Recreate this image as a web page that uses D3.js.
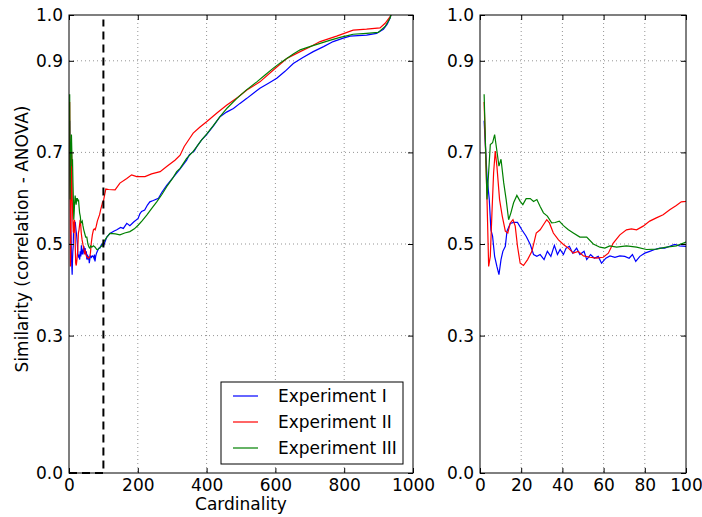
<!DOCTYPE html>
<html>
<head>
<meta charset="utf-8">
<script src="https://cdn.jsdelivr.net/npm/d3@7"></script>
<style>
  body { margin: 0; background: #fff; }
  svg { display: block; font-family: "DejaVu Sans", sans-serif; }
</style>
</head>
<body>
<div id="chart"></div>
<script>
// similarity vs cardinality, [cardinality, similarity]
const expI = [
  [2,0.769],[3.4,0.648],[4.5,0.597],[5.3,0.531],[6.1,0.517],[7.1,0.473],[8.2,0.451],[9.2,0.433],
  [10.2,0.466],[11.1,0.484],[12.3,0.495],[13.1,0.528],[14.7,0.545],[16.3,0.547],[18.2,0.547],
  [20.3,0.531],[22.4,0.517],[24.4,0.499],[26,0.477],[27.6,0.473],[29.2,0.477],[31.1,0.466],
  [32.7,0.484],[34.4,0.473],[36.1,0.497],[37.6,0.477],[38.9,0.488],[40.5,0.477],[41.8,0.491],
  [43.4,0.495],[45,0.48],[46.9,0.491],[48.5,0.477],[50.5,0.484],[51.8,0.466],[53.7,0.477],
  [55.5,0.469],[57.4,0.473],[59,0.458],[61.1,0.469],[63.1,0.474],[65.5,0.471],[67.9,0.474],
  [70.3,0.473],[72.4,0.469],[74,0.477],[75.6,0.462],[77.6,0.473],[80,0.48],[82.4,0.484],
  [84.8,0.488],[87.3,0.491],[89.7,0.491],[92.1,0.495],[94.5,0.499],[96.9,0.496],[100,0.495],
  [110,0.515],[119,0.523],[130,0.528],[139,0.531],[150,0.536],[158,0.534],[168,0.545],[177,0.54],
  [188,0.548],[201,0.556],[206,0.566],[211,0.571],[220,0.574],[228,0.585],[235,0.592],[245,0.595],
  [260,0.6],[270,0.613],[284,0.628],[300,0.643],[323,0.664],[342,0.683],[350,0.695],[357,0.699],
  [364,0.703],[371,0.712],[385,0.727],[400,0.739],[420,0.758],[439,0.778],[458,0.788],[478,0.796],
  [497,0.807],[517,0.818],[536,0.829],[555,0.84],[580,0.851],[604,0.862],[628,0.877],[652,0.894],
  [680,0.907],[710,0.92],[740,0.931],[768,0.942],[795,0.949],[817,0.954],[840,0.955],[865,0.956],
  [894,0.96],[914,0.969],[925,0.98],[933,0.993],[936,1.0]
];
const expII = [
  [2,0.81],[3.4,0.597],[4.2,0.451],[5,0.473],[5.8,0.568],[6.6,0.655],[7.4,0.703],[8.2,0.67],
  [9.5,0.597],[10.8,0.561],[12.3,0.528],[13.5,0.524],[14.7,0.546],[16,0.553],[17.1,0.539],
  [18.2,0.495],[19.5,0.458],[21.1,0.453],[23.1,0.466],[25.2,0.484],[27.3,0.524],[29.2,0.531],
  [30.8,0.542],[32.4,0.553],[33.7,0.546],[35.6,0.524],[38.1,0.509],[40.5,0.499],[42.9,0.491],
  [45.3,0.48],[47.7,0.484],[50.2,0.474],[53.4,0.471],[56.6,0.469],[59.8,0.471],[62.3,0.48],
  [64.7,0.502],[67.9,0.52],[71.1,0.531],[73.5,0.533],[76,0.531],[79.2,0.539],[82.4,0.55],
  [85.6,0.557],[88.9,0.564],[92.1,0.575],[95.3,0.584],[97.7,0.592],[100,0.593],
  [103,0.605],[107,0.62],[115,0.619],[134,0.618],[148,0.633],[168,0.643],[182,0.651],[197,0.647],
  [221,0.647],[240,0.653],[265,0.658],[284,0.669],[308,0.683],[323,0.694],[335,0.713],[352,0.732],
  [361,0.742],[380,0.755],[400,0.767],[430,0.786],[458,0.803],[490,0.82],[517,0.836],[555,0.854],
  [594,0.88],[633,0.905],[672,0.92],[700,0.93],[730,0.942],[778,0.954],[826,0.967],[865,0.969],
  [904,0.972],[919,0.982],[933,0.996],[936,1.0]
];
const expIII = [
  [2,0.827],[3.4,0.597],[5,0.717],[6.1,0.721],[7.1,0.739],[8.2,0.703],[9.2,0.67],[10.2,0.685],
  [11.5,0.634],[12.7,0.597],[13.9,0.553],[15,0.568],[16.3,0.59],[17.9,0.606],[19.5,0.593],
  [20.8,0.586],[22.4,0.599],[24.4,0.599],[26,0.593],[27.6,0.597],[29.2,0.582],[30.8,0.568],
  [32.7,0.561],[34.8,0.546],[36.5,0.547],[38.5,0.55],[40.5,0.54],[42.9,0.531],[45.3,0.524],
  [48.5,0.515],[51.8,0.515],[55,0.5],[58.2,0.493],[60.6,0.491],[63,0.496],[66.3,0.493],
  [71.1,0.496],[76,0.493],[80.8,0.488],[85.6,0.489],[90.5,0.493],[95.3,0.496],[100,0.504],
  [110,0.515],[119,0.523],[135,0.522],[148,0.52],[162,0.524],[177,0.527],[190,0.533],[201,0.541],
  [213,0.551],[226,0.563],[240,0.577],[255,0.592],[270,0.608],[284,0.625],[300,0.642],[313,0.658],
  [323,0.665],[342,0.687],[361,0.702],[371,0.712],[385,0.727],[400,0.74],[420,0.759],[439,0.778],
  [460,0.797],[488,0.818],[515,0.836],[546,0.854],[570,0.869],[594,0.884],[615,0.896],[633,0.905],
  [652,0.915],[672,0.924],[700,0.931],[730,0.938],[760,0.945],[788,0.951],[810,0.955],[826,0.958],
  [865,0.96],[899,0.962],[919,0.975],[933,0.993],[936,1.0]
];

const seriesNames = ["Experiment I", "Experiment II", "Experiment III"];
const seriesColors = ["#0000ff", "#ff0000", "#008000"];
const yTicks = [0.0, 0.3, 0.5, 0.7, 0.9, 1.0];
const xTicksLeft = [0, 200, 400, 600, 800, 1000];
const xTicksRight = [0, 20, 40, 60, 80, 100];
// dashed marker: box corner at cardinality 100
const cutoff = [[0, 0], [100, 0], [100, 0.99]];

const width = 702, height = 517;
const plotTop = 15, plotBottom = 473;
const fontSize = 17;

const svg = d3.select("#chart").append("svg")
  .attr("width", width).attr("height", height);

const y = d3.scaleLinear().domain([0, 1]).range([plotBottom, plotTop]);
const allSeries = [expI, expII, expIII];

function drawPanel(x0, x1, xDomain, xTicks, id, extra) {
  const x = d3.scaleLinear().domain(xDomain).range([x0, x1]);
  const g = svg.append("g");

  g.append("clipPath").attr("id", id)
    .append("rect").attr("x", x0).attr("y", plotTop).attr("width", x1 - x0).attr("height", plotBottom - plotTop);

  // grid
  const grid = g.append("g").attr("stroke", "#000").attr("stroke-width", 0.6)
    .attr("stroke-dasharray", "1,3").attr("opacity", 0.7);
  grid.selectAll("line.v").data(xTicks.slice(1, -1)).join("line").attr("class", "v")
    .attr("x1", d => x(d)).attr("x2", d => x(d)).attr("y1", plotTop).attr("y2", plotBottom);
  grid.selectAll("line.h").data(yTicks.slice(1, -1)).join("line").attr("class", "h")
    .attr("y1", d => y(d)).attr("y2", d => y(d)).attr("x1", x0).attr("x2", x1);

  const line = d3.line().x(d => x(d[0])).y(d => y(d[1]));
  const lines = g.append("g").attr("clip-path", `url(#${id})`);
  lines.selectAll("path").data(allSeries).join("path")
    .attr("d", line).attr("fill", "none")
    .attr("stroke", (d, i) => seriesColors[i]).attr("stroke-width", 1.2);

  if (extra) extra(g, x);

  const fmt = d3.format(".1f");
  const bAx = g.append("g").attr("transform", `translate(0,${plotBottom})`)
    .call(d3.axisBottom(x).tickValues(xTicks).tickSizeInner(-5).tickSizeOuter(0).tickPadding(6).tickFormat(d3.format("d")));
  const tAx = g.append("g").attr("transform", `translate(0,${plotTop})`)
    .call(d3.axisTop(x).tickValues(xTicks).tickSizeInner(-5).tickSizeOuter(0).tickFormat(""));
  const lAx = g.append("g").attr("transform", `translate(${x0},0)`)
    .call(d3.axisLeft(y).tickValues(yTicks).tickSizeInner(-5).tickSizeOuter(0).tickPadding(6).tickFormat(fmt));
  const rAx = g.append("g").attr("transform", `translate(${x1},0)`)
    .call(d3.axisRight(y).tickValues(yTicks).tickSizeInner(-5).tickSizeOuter(0).tickFormat(""));
  [bAx, tAx, lAx, rAx].forEach(a => {
    a.select(".domain").remove();
    a.selectAll("line").attr("stroke", "#000");
    a.selectAll("text").attr("font-size", fontSize).attr("fill", "#000")
      .attr("font-family", "DejaVu Sans, sans-serif");
  });

  g.append("rect").attr("x", x0).attr("y", plotTop).attr("width", x1 - x0).attr("height", plotBottom - plotTop)
    .attr("fill", "none").attr("stroke", "#000").attr("stroke-width", 1);
  return x;
}

drawPanel(69, 413, [0, 1000], xTicksLeft, "clipL", (g, x) => {
  g.append("path")
    .attr("d", d3.line().x(d => x(d[0])).y(d => y(d[1]))(cutoff))
    .attr("fill", "none").attr("stroke", "#000").attr("stroke-width", 2)
    .attr("stroke-dasharray", "8,5");
});
drawPanel(480, 686, [0, 100], xTicksRight, "clipR");

// axis labels
svg.append("text").attr("x", 241).attr("y", 510).attr("text-anchor", "middle")
  .attr("font-size", fontSize).text("Cardinality");
svg.append("text").attr("transform", `translate(28,${(plotTop + plotBottom) / 2 - 5}) rotate(-90)`)
  .attr("text-anchor", "middle").attr("font-size", fontSize).text("Similarity (correlation - ANOVA)");

// legend
const leg = svg.append("g");
leg.append("rect").attr("x", 221).attr("y", 382).attr("width", 182).attr("height", 82)
  .attr("fill", "#fff").attr("stroke", "#000").attr("stroke-width", 1);
seriesNames.forEach((name, i) => {
  const cy = 396 + i * 26;
  leg.append("line").attr("x1", 233).attr("x2", 258).attr("y1", cy).attr("y2", cy)
    .attr("stroke", seriesColors[i]).attr("stroke-width", 1.2);
  leg.append("text").attr("x", 278).attr("y", cy).attr("dy", "0.36em")
    .attr("font-size", fontSize).text(name);
});
</script>
</body>
</html>
